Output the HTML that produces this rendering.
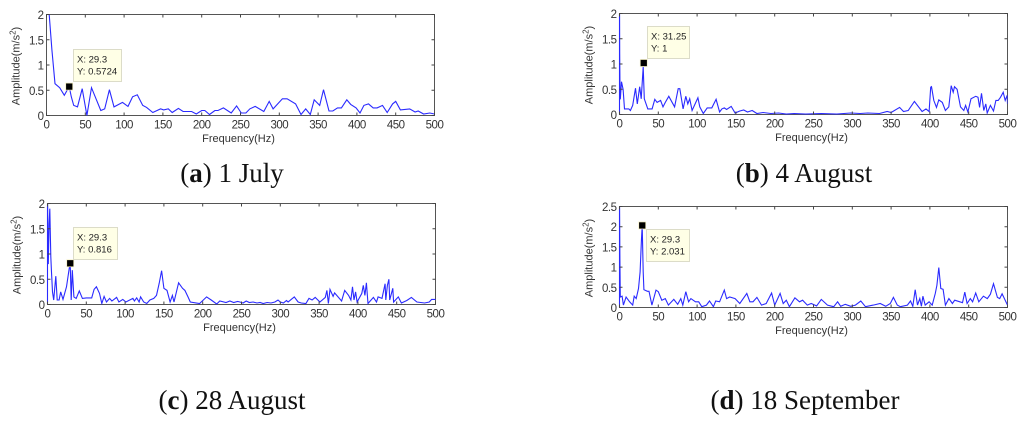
<!DOCTYPE html>
<html lang="en">
<head>
<meta charset="utf-8">
<title>Vibration amplitude spectra</title>
<style>
html,body{margin:0;padding:0;background:#fff;}
#figure{display:block;width:1024px;height:423px;}
.tick{font:11.5px "Liberation Sans",Arial,sans-serif;letter-spacing:-0.5px;fill:#333;}
.axis-title{font:11px "Liberation Sans",Arial,sans-serif;fill:#333;}
.tip{font:9.5px "Liberation Sans",Arial,sans-serif;fill:#222;}
.cap{font:27px "Liberation Serif","Times New Roman",serif;fill:#111;}
</style>
</head>
<body>
<svg id="figure" xmlns="http://www.w3.org/2000/svg" width="1024" height="423" viewBox="0 0 1024 423"></svg>
<script>
const xTicks = [0,50,100,150,200,250,300,350,400,450,500];
const yTicks12 = [0,0.5,1,1.5,2];
const yTicks125 = [0,0.5,1,1.5,2,2.5];

const freqA = [0,3.5,7,11,17,23,29.3,32,35,40,46,52,58,62,70,75,81,87,98,105,111,117,124,129,137,147,151,157,162,170,176,187,193,200,204,210,217,221,228,238,245,251,257,262,269,280,287,292,304,310,321,328,334,340,345,352,357,364,369,375,380,387,392,399,404,409,415,421,426,433,439,446,450,456,468,475,479,486,494,500];
const ampA  = [2.9,2,1.3,.63,.55,.4,.5724,.37,.2,.17,.53,0,.55,.4,.1,.13,.51,.17,.26,.18,.37,.41,.2,.16,.06,.13,.11,.13,.06,.14,.08,.08,.03,.1,.1,.02,.1,.1,.15,.05,.19,.05,.05,.13,.18,.08,.28,.13,.33,.33,.23,.02,.13,.02,.31,.2,.51,.09,.09,.15,.15,.31,.22,.15,.05,.2,.23,.15,.15,.2,.06,.23,.28,.11,.13,.07,.09,.03,.05,.03];

const freqB = [0,0,0.3,0.6,1,2.6,4.7,6.4,12,14,17,20.6,23,26,28,30.5,32,36.5,42,45.5,48.5,53,56,59,63.5,71,75.6,77.7,82,85.5,88,90.5,93.6,101,103.5,108,113,119,124.5,129,132,135,138,144,149,155,160,165,171,177,185,195,205,215,225,240,260,280,298,310,320,335,345,350,361,366,372,380,390,395,399,401,402,405,408.5,411.5,416,420,424.4,427.4,430,431.7,435,439.4,443.7,446,449,453,459,462,464,466.5,469.5,472,473.8,478,482,485,488,491,494.4,497,499.6,500];
const ampB  = [0,2.4,1.2,0.5,0.3,.65,.5,.11,.11,.08,.18,.52,.21,.55,.31,.94,.31,.11,.11,.3,.24,.28,.15,.24,.36,.15,.51,.51,.11,.36,.21,.31,.08,.33,.15,.02,.13,.13,.3,.05,.11,.13,.1,.16,.03,.07,.09,.05,.08,.02,.04,.02,.03,.01,.02,.01,.02,.01,.03,.02,.03,.02,.06,.04,.14,.06,.08,.26,.06,.11,.06,.54,.55,.28,.14,.29,.24,.08,.15,.57,.44,.55,.5,.15,.08,.18,.05,.31,.36,.34,.14,.42,.08,.21,.03,.18,.07,.28,.28,.34,.44,.28,.38,.21];

const freqC = [0,0,0.5,1,2,3,4.3,5,6.5,8,10.7,12.5,15,17,20,24.5,28,29.3,30.5,32,34,37,41,45,50,57,60,63,67,70,73,76,80,83,89,92,97,101,110,112,115,118,120,124,128,132,137,140.5,144,147,150,154,158,161,163,169,174,177,181,184,196,205,211,218,222,230,235,240,245,248,252,256,260,265,270,274,278,283,288,293,297,300,304,308,310,314,318,323,327,333,337,341,345,351,358,360,362,364,368,370,379,383,388,391,393,395,397,399,405,407,409,411,413,420,424,426,431,435,436,438,440,441,445,446,452,456,463,469,476,486,492,495,500];
const ampC  = [0,2.4,1.2,0.8,1.6,1.9,.95,.68,.25,.09,.56,.09,.09,.25,.1,.35,.71,.816,.09,.68,.15,.12,.27,.12,.13,.13,.3,.35,.22,.02,.16,.05,.12,.07,.14,.05,.1,.05,.12,.07,.13,.05,.15,.05,.02,.09,.12,.18,.42,.67,.32,.28,.05,.18,.05,.43,.32,.28,.15,.05,.02,.15,.09,.01,.07,.04,.07,.04,.06,.05,.03,.07,.04,.05,.03,.04,.02,.04,.03,.05,.09,.05,.03,.08,.05,.1,.15,.05,.03,.02,.12,.09,.14,.05,.14,.28,.02,.3,.16,.23,.07,.28,.18,.09,.35,.09,.25,.05,.22,.38,.18,.43,.02,.14,.05,.15,.12,.41,.09,.38,.5,.09,.32,.05,.15,.03,.08,.14,.05,.03,.05,.1,.1];

const freqD = [0,0,0.5,1,3.3,5,8.5,13,17,19,21.5,24.5,26.6,28.2,29.3,30.5,31.5,36,38,41.7,47,50,54.5,59,63,70,75,79,81.6,85.5,89,92,98,102,106,112,116,121,124,129,135,138,142,149,155,164,168,172,177,183,189,196,200,207,211,215,219,226,232,236,242,247,254,260,268,276,281,285,291,298,304,311,317,327,336,343,349,353,358,362,371,375,378,381,384,387,389,391,394,399,403,407,409,411.5,414,417,420,424.5,429,432,442,445,448,452,455,459,463,469,474,478,482,487,490,493,500];
const ampD  = [0,2.8,1.2,.26,.28,.06,.26,.14,.06,.28,.22,.47,.88,1.65,2.031,.88,.44,.4,.4,.06,.43,.39,.18,.22,.06,.2,.08,.22,.06,.39,.14,.22,.14,.14,.02,.06,.16,.02,.16,.14,.43,.22,.26,.22,.1,.35,.14,.14,.25,.06,.1,.36,.06,.35,.1,.18,.02,.24,.14,.18,.06,.1,.04,.2,.06,.02,.14,.03,.08,.03,.06,.16,.02,.06,.1,.03,.1,.25,.06,.02,.06,.16,.03,.44,.06,.22,.03,.28,.06,.14,.06,.35,.55,.99,.47,.45,.06,.22,.1,.18,.12,.38,.1,.22,.14,.36,.14,.28,.22,.33,.59,.25,.22,.34,.06,.08];

const SVG_NS = 'http://www.w3.org/2000/svg';
const svg = document.getElementById('figure');

function make(parent, tag, attrs, text) {
  const el = document.createElementNS(SVG_NS, tag);
  for (const k in attrs) el.setAttribute(k, attrs[k]);
  if (text !== undefined) el.textContent = text;
  parent.appendChild(el);
  return el;
}

function drawPanel(p) {
  const w = p.right - p.left;
  const h = p.bottom - p.top;
  const xScale = v => p.left + v / 500 * w;
  const yScale = v => p.bottom - v / p.yMax * h;

  const g = make(svg, 'g', {style: 'filter:blur(0.35px)'});
  
  

  const clipId = 'clip-' + p.id;
  const defs = make(g, 'defs', {});
  const clip = make(defs, 'clipPath', {id: clipId});
  make(clip, 'rect', {x: p.left - 1, y: p.top, width: w + 1, height: h});

  const pts = p.freq.map((f, i) => xScale(f).toFixed(1) + ',' + yScale(p.amp[i]).toFixed(1)).join(' ');

  const box = make(g, 'rect', {x: p.left, y: p.top, width: w, height: h, fill: 'none', stroke: '#555', 'stroke-width': 1});
  
  

  const line = make(g, 'polyline', {points: pts, fill: 'none', stroke: '#2a2aff', 'stroke-width': 1.1, 'clip-path': 'url(#' + clipId + ')'});
  
  

  xTicks.forEach(v => {
    const x = xScale(v);
    make(g, 'path', {d: 'M' + x + ' ' + p.bottom + 'v-3M' + x + ' ' + p.top + 'v3', stroke: '#444', 'stroke-width': 1, fill: 'none'});
    const t = make(g, 'text', {x: x, y: p.bottom + 13, 'text-anchor': 'middle', class: 'tick'}, String(v));
    
    
  });
  p.yTicks.forEach(v => {
    const y = yScale(v);
    make(g, 'path', {d: 'M' + p.left + ' ' + y + 'h3M' + p.right + ' ' + y + 'h-3', stroke: '#444', 'stroke-width': 1, fill: 'none'});
    const t = make(g, 'text', {x: p.left - 3, y: y + 4.5, 'text-anchor': 'end', class: 'tick'}, String(v));
    
    
  });

  const xt = make(g, 'text', {x: (p.left + p.right) / 2 - 2, y: p.bottom + 26.5, 'text-anchor': 'middle', class: 'axis-title'}, 'Frequency(Hz)');
  
  

  const yx = p.left - 27;
  const yy = (p.top + p.bottom) / 2 + 1;
  const yt = make(g, 'text', {x: yx, y: yy, 'text-anchor': 'middle', class: 'axis-title', transform: 'rotate(-90 ' + yx + ' ' + yy + ')'});
  
  
  make(yt, 'tspan', {}, 'Amplitude(m/s');
  make(yt, 'tspan', {dy: -4, style: 'font-size:8px'}, '2');
  make(yt, 'tspan', {dy: 4}, ')');

  const mx = xScale(p.markX);
  const my = yScale(p.markY);
  const marker = make(g, 'rect', {x: mx - 3.5, y: my - 3.5 + p.markDy, width: 7, height: 7, fill: '#000', stroke: '#f4eec0', 'stroke-width': 0.7});
  
  

  const tip = make(g, 'g', {});
  
  
  make(tip, 'rect', {x: p.tipX, y: p.tipY, width: p.tipW, height: 32, fill: '#ffffe6', stroke: '#dcdcc8', 'stroke-width': 1});
  make(tip, 'text', {x: p.tipX + 3.5, y: p.tipY + 13, class: 'tip'}, 'X: ' + p.markX);
  make(tip, 'text', {x: p.tipX + 3.5, y: p.tipY + 25, class: 'tip'}, 'Y: ' + p.markY);

  const cap = make(svg, 'text', {x: p.capX, y: p.capY, 'text-anchor': 'middle', class: 'cap'});
  
  
  make(cap, 'tspan', {}, '(');
  make(cap, 'tspan', {style: 'font-weight:bold'}, p.id);
  make(cap, 'tspan', {}, ') ' + p.caption);
}

drawPanel({id: 'a', caption: '1 July', left: 46.5, right: 434.5, top: 14.5, bottom: 115.5, yMax: 2, yTicks: yTicks12, freq: freqA, amp: ampA, markX: 29.3, markY: 0.5724, markDy: 0, tipX: 73.5, tipY: 49.5, tipW: 48, capX: 232, capY: 182});
drawPanel({id: 'b', caption: '4 August', left: 619.5, right: 1007.5, top: 13.5, bottom: 114.5, yMax: 2, yTicks: yTicks12, freq: freqB, amp: ampB, markX: 31.25, markY: 1, markDy: -1, tipX: 647.5, tipY: 26.5, tipW: 42, capX: 804, capY: 182});
drawPanel({id: 'c', caption: '28 August', left: 47.5, right: 435.5, top: 203.5, bottom: 304.5, yMax: 2, yTicks: yTicks12, freq: freqC, amp: ampC, markX: 29.3, markY: 0.816, markDy: 0, tipX: 73.5, tipY: 227.5, tipW: 44, capX: 232, capY: 409});
drawPanel({id: 'd', caption: '18 September', left: 619.5, right: 1007.5, top: 206.5, bottom: 307.5, yMax: 2.5, yTicks: yTicks125, freq: freqD, amp: ampD, markX: 29.3, markY: 2.031, markDy: 0, tipX: 646.5, tipY: 229.5, tipW: 43, capX: 805, capY: 409});
</script>
</body>
</html>
